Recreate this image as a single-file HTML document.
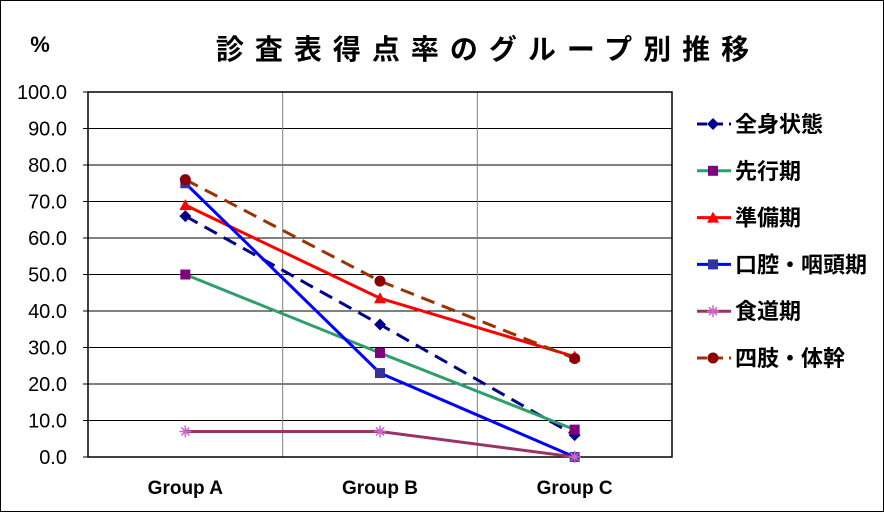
<!DOCTYPE html>
<html><head><meta charset="utf-8">
<style>
html,body{margin:0;padding:0;background:#fff;}
svg{display:block;font-family:"Liberation Sans","Noto Sans CJK JP",sans-serif;}
</style></head>
<body>
<svg id="chart" width="884" height="512" viewBox="0 0 884 512">
<rect x="0.5" y="0.5" width="883" height="511" fill="#fff" stroke="#000" stroke-width="1"/>
<text x="40" y="52" font-size="22" font-weight="bold" text-anchor="middle">%</text>
<text x="488" y="59" font-size="28" font-weight="bold" text-anchor="middle" letter-spacing="11">診査表得点率のグループ別推移</text>
<g id="grid"></g><g id="series"></g><g id="legend"></g>
</svg>
<script>
const categories = ["Group A","Group B","Group C"];
const yTicks = ["0.0","10.0","20.0","30.0","40.0","50.0","60.0","70.0","80.0","90.0","100.0"];
const names = ["全身状態","先行期","準備期","口腔・咽頭期","食道期","四肢・体幹"];
const s1 = [66,36.3,6];
const s2 = [50,28.5,7.5];
const s3 = [69,43.5,27.5];
const s4 = [75,23,0];
const s5 = [7,7,0];
const s6 = [76,48.2,27];
const seriesData=[s1,s2,s3,s4,s5,s6];
const lineCols=["#00008b","#2e9e6b","#ff0000","#0000ff","#993366","#993300"];
const markCols=["#00008b","#800080","#ff0000","#333399","#cc66cc","#8b0000"];
const dashes=["14,8","","","","","14,8"];
const markers=["diamond","square","triangle","square","star","circle"];
const X0=88,X1=672,Y0=457,Y1=92;
const ns="http://www.w3.org/2000/svg";
const xs=i=>X0+(X1-X0)*(i+0.5)/categories.length;
const ys=v=>Y0-(Y0-Y1)*v/100;
function mk(tag,at,par){const e=document.createElementNS(ns,tag);for(const k in at)e.setAttribute(k,at[k]);par.appendChild(e);return e;}
const grid=document.getElementById('grid');
yTicks.forEach((t,i)=>{const v=parseFloat(t);const y=ys(v);
 const l=mk('line',{x1:X0,x2:X1,y1:y,y2:y,stroke:'#000','stroke-width':1},grid);
 
 
 const tk=mk('line',{x1:X0-5,x2:X0,y1:y,y2:y,stroke:'#000'},grid);
 
 
 const tx=mk('text',{x:X0-21,y:y+7,'font-size':20,'text-anchor':'end'},grid);
 tx.textContent=t;
 
 
});
for(let i=1;i<categories.length;i++){const x=X0+(X1-X0)*i/categories.length;
 const l=mk('line',{x1:x,x2:x,y1:Y1,y2:Y0,stroke:'#808080'},grid);
 
 }
const frame=mk('rect',{x:X0,y:Y1,width:X1-X0,height:Y0-Y1,fill:'none',stroke:'#000','stroke-width':1.5},grid);


categories.forEach((c,i)=>{const t=mk('text',{x:xs(i),y:494,'font-size':19,'font-weight':'bold','text-anchor':'middle'},grid);
 t.textContent=c;
 
 });
function marker(type,x,y,col,par){let e;
 if(type==='diamond')e=mk('polygon',{points:`${x},${y-6} ${x+6},${y} ${x},${y+6} ${x-6},${y}`,fill:col},par);
 else if(type==='square')e=mk('rect',{x:x-5,y:y-5,width:10,height:10,fill:col},par);
 else if(type==='triangle')e=mk('polygon',{points:`${x},${y-6} ${x+6},${y+5} ${x-6},${y+5}`,fill:col},par);
 else if(type==='circle')e=mk('circle',{cx:x,cy:y,r:5.5,fill:col},par);
 else {e=mk('path',{d:`M${x-6},${y}H${x+6}M${x},${y-6}V${y+6}M${x-4},${y-4}L${x+4},${y+4}M${x-4},${y+4}L${x+4},${y-4}`,stroke:col,'stroke-width':1.5},par);}
 return e;}
const sg=document.getElementById('series');
seriesData.forEach((d,si)=>{const g=mk('g',{},sg);
 
 
 const pl=mk('polyline',{points:d.map((v,i)=>xs(i)+','+ys(v)).join(' '),fill:'none',stroke:lineCols[si],'stroke-width':3,'stroke-dasharray':dashes[si]},g);
 
 
 d.forEach((v,i)=>{const m=marker(markers[si],xs(i),ys(v),markCols[si],g);
  
  });
});
const lg=document.getElementById('legend');
names.forEach((n,i)=>{const y=124+i*46.8;const g=mk('g',{},lg);
 
 
 mk('line',{x1:697,x2:731,y1:y,y2:y,stroke:lineCols[i],'stroke-width':3,'stroke-dasharray':dashes[i]?'10,6':''},g);
 marker(markers[i],713,y,markCols[i],g);
 const t=mk('text',{x:735,y:y+8,'font-size':22,'font-weight':'bold'},g);t.textContent=n;});
</script>
</body></html>
